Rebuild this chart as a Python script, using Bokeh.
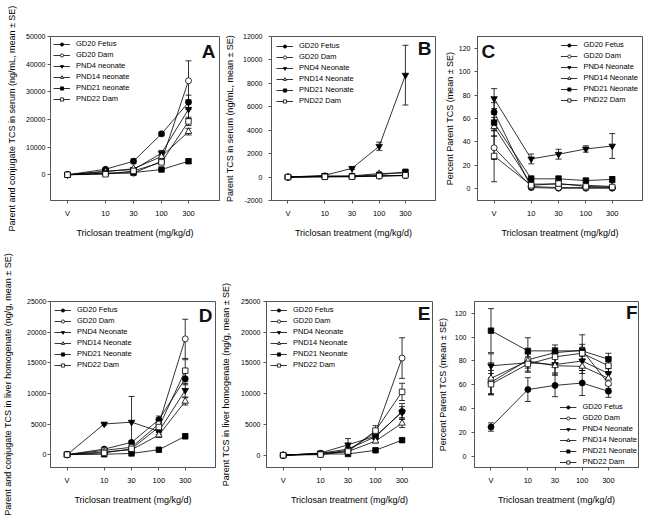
from bokeh.plotting import figure
from bokeh.models import (ColumnDataSource, Whisker, TeeHead, Legend, LegendItem,
                          FixedTicker, Range1d, Label, NumeralTickFormatter)
from bokeh.layouts import column, row
from bokeh.embed import file_html
from bokeh.resources import INLINE

# ---------------- data ----------------
doses = ["V", "10", "30", "100", "300"]
names = ["GD20 Fetus", "GD20 Dam", "PND4 Neonate", "PND14 Neonate", "PND21 Neonate", "PND22 Dam"]
names_a = ["GD20 Fetus", "GD20 Dam", "PND4 neonate", "PND14 neonate", "PND21 neonate", "PND22 Dam"]

# A: parent + conjugate TCS in serum (ng/mL)
a_fetus = [0, 2000, 4900, 14800, 26200]
a_dam = [0, 600, 600, 4900, 34000]
a_pnd4 = [0, 1300, 1900, 7800, 23700]
a_pnd14 = [0, 1100, 2200, 6600, 15600]
a_pnd21 = [0, 500, 800, 1900, 4900]
a_pnd22 = [0, 200, 1400, 4500, 19300]
a_se_fetus = [0, 300, 900, 700, 2600]
a_se_dam = [0, 100, 150, 900, 7200]
a_se_pnd4 = [0, 200, 300, 1000, 3400]
a_se_pnd14 = [0, 150, 300, 800, 1200]
a_se_pnd21 = [0, 80, 120, 300, 700]
a_se_pnd22 = [0, 50, 200, 600, 1500]

# B: parent TCS in serum (ng/mL)
b_fetus = [0, 50, 60, 100, 150]
b_dam = [0, 30, 40, 80, 120]
b_pnd4 = [0, 150, 750, 2630, 8700]
b_pnd14 = [0, 80, 100, 300, 350]
b_pnd21 = [0, 70, 60, 200, 450]
b_pnd22 = [0, 20, 30, 100, 150]
b_se_fetus = [0, 10, 10, 20, 30]
b_se_dam = [0, 10, 10, 20, 30]
b_se_pnd4 = [0, 30, 100, 350, 2550]
b_se_pnd14 = [0, 20, 20, 60, 80]
b_se_pnd21 = [0, 20, 20, 50, 100]
b_se_pnd22 = [0, 10, 10, 20, 30]

# C: percent parent TCS in serum
c_fetus = [65.5, 1, 0.5, 0.5, 0.5]
c_dam = [35, 2, 1, 1, 1]
c_pnd4 = [77, 25.5, 29.5, 34, 36.5]
c_pnd14 = [53, 4, 4, 3, 2]
c_pnd21 = [56.5, 8.5, 8.5, 7, 8]
c_pnd22 = [28, 3, 4.5, 2, 1.5]
c_se_fetus = [8, 0.3, 0.2, 0.2, 0.2]
c_se_dam = [10, 0.5, 0.3, 0.3, 0.3]
c_se_pnd4 = [8.5, 4.2, 4.2, 2.7, 10.6]
c_se_pnd14 = [8, 1, 1, 1, 0.5]
c_se_pnd21 = [7, 2.5, 2.5, 1.5, 2.5]
c_se_pnd22 = [22, 1, 1.5, 0.5, 0.5]

# D: parent + conjugate TCS in liver homogenate (ng/g)
d_fetus = [0, 900, 2000, 5700, 12400]
d_dam = [0, 700, 1200, 5000, 18900]
d_pnd4 = [0, 5000, 5300, 3800, 10500]
d_pnd14 = [0, 450, 800, 3200, 8700]
d_pnd21 = [0, 60, 200, 800, 3000]
d_pnd22 = [0, 280, 950, 4500, 13700]
d_se_fetus = [0, 100, 300, 600, 1000]
d_se_dam = [0, 100, 150, 800, 3200]
d_se_pnd4 = [0, 200, 4200, 500, 1100]
d_se_pnd14 = [0, 80, 150, 400, 600]
d_se_pnd21 = [0, 20, 40, 100, 400]
d_se_pnd22 = [0, 50, 100, 700, 1800]

# E: parent TCS in liver homogenate (ng/g)
e_fetus = [0, 300, 1000, 3000, 7100]
e_dam = [0, 200, 800, 3700, 15800]
e_pnd4 = [0, 350, 1700, 3100, 7000]
e_pnd14 = [0, 250, 600, 2300, 5200]
e_pnd21 = [0, 200, 200, 800, 2450]
e_pnd22 = [0, 100, 600, 4000, 10300]
e_se_fetus = [0, 50, 300, 400, 1300]
e_se_dam = [0, 50, 200, 600, 3300]
e_se_pnd4 = [0, 60, 1000, 400, 900]
e_se_pnd14 = [0, 50, 150, 300, 700]
e_se_pnd21 = [0, 30, 50, 100, 300]
e_se_pnd22 = [0, 30, 150, 800, 1400]

# F: percent parent TCS in liver homogenate
f_fetus = [24.5, 56, 59.5, 61.5, 54.5]
f_dam = [62, 81, 87, 89, 61]
f_pnd4 = [76, 78.5, 77, 80, 69.5]
f_pnd14 = [65.5, 80, 76, 75.5, 65.5]
f_pnd21 = [105.5, 88.5, 88.5, 88.5, 81.5]
f_pnd22 = [60.5, 77.5, 83.5, 86.5, 76]
f_se_fetus = [3.5, 10, 9.5, 10.5, 5]
f_se_dam = [10, 5, 4, 5, 4]
f_se_pnd4 = [10, 8, 7, 8, 4]
f_se_pnd14 = [13, 6, 8, 6, 5]
f_se_pnd21 = [18.5, 11, 5, 13.5, 5]
f_se_pnd22 = [9, 6, 5, 5, 7]

# ---------------- styling / layout ----------------
POS = [0, 38, 66, 94, 121]          # horizontal placement of the dose categories
XR = (-17, 152)
FONT = "Liberation Sans"
FRAME = "#555555"
MARKERS = ["circle", "circle", "inverted_triangle", "triangle", "square", "square"]
FILLS = ["black", "white", "black", "white", "black", "white"]
MSIZE = [6, 6, 6.5, 6.5, 5.5, 5.5]


def panel(letter, means, ses, labels, ylabel, yr, yticks, width, height,
          bl, br, bt, bb, tick_standoff, label_standoff,
          leg_loc, leg_margin, leg_pad, letter_side, letter_dx, letter_dy):
    p = figure(width=width, height=height, min_border_left=bl, min_border_right=br,
               min_border_top=bt, min_border_bottom=bb,
               x_range=Range1d(*XR), y_range=Range1d(*yr),
               output_backend="svg", toolbar_location=None, tools="")
    p.grid.visible = False
    p.outline_line_color = FRAME
    p.outline_line_width = 1
    p.background_fill_color = "white"
    p.border_fill_color = "white"

    xa = p.xaxis[0]
    ya = p.yaxis[0]
    xa.ticker = FixedTicker(ticks=POS)
    xa.major_label_overrides = {k: v for k, v in zip(POS, doses)}
    ya.ticker = FixedTicker(ticks=yticks)
    ya.formatter = NumeralTickFormatter(format="0")
    xa.axis_label = "Triclosan treatment (mg/kg/d)"
    ya.axis_label = ylabel
    for ax in (xa, ya):
        ax.axis_line_color = FRAME
        ax.major_tick_line_color = FRAME
        ax.minor_tick_line_color = None
        ax.major_tick_in = 0
        ax.major_tick_out = 3
        ax.major_label_text_font = FONT
        ax.major_label_text_color = "black"
        ax.axis_label_text_font = FONT
        ax.axis_label_text_font_style = "normal"
        ax.axis_label_text_font_size = "9px"
        ax.axis_label_text_color = "black"
    xa.major_label_text_font_size = "7.5px"
    ya.major_label_text_font_size = "7px"
    xa.major_label_standoff = 5
    xa.axis_label_standoff = 7
    ya.major_label_standoff = tick_standoff
    ya.axis_label_standoff = label_standoff

    items = []
    for i, (m, s, lab) in enumerate(zip(means, ses, labels)):
        src = ColumnDataSource(dict(x=POS, y=m,
                                    upper=[a + b for a, b in zip(m, s)],
                                    lower=[a - b for a, b in zip(m, s)]))
        ln = p.line("x", "y", source=src, line_color="black", line_width=0.8)
        w = Whisker(source=src, base="x", upper="upper", lower="lower",
                    line_color="black", line_width=0.8, level="underlay",
                    upper_head=TeeHead(size=6, line_color="black", line_width=0.8),
                    lower_head=TeeHead(size=6, line_color="black", line_width=0.8))
        p.add_layout(w)
        sc = p.scatter("x", "y", source=src, marker=MARKERS[i], size=MSIZE[i],
                       fill_color=FILLS[i], line_color="black", line_width=0.8)
        items.append(LegendItem(label=lab, renderers=[ln, sc]))

    leg = Legend(items=items, location=leg_loc, background_fill_alpha=0,
                 border_line_alpha=0, label_text_font=FONT, label_text_font_size="7.5px",
                 label_text_color="black",
                 glyph_width=17, glyph_height=8, label_height=8, spacing=2,
                 label_standoff=6, padding=leg_pad, margin=leg_margin)
    p.add_layout(leg)

    if letter_side == "right":
        lx, align = XR[1], "right"
    else:
        lx, align = XR[0], "left"
    p.add_layout(Label(x=lx, y=yr[1], text=letter, text_font=FONT,
                       text_font_size="19px", text_font_style="bold",
                       text_color="#111111", text_align=align, text_baseline="top",
                       x_offset=letter_dx, y_offset=letter_dy))
    return p


pA = panel("A", [a_fetus, a_dam, a_pnd4, a_pnd14, a_pnd21, a_pnd22],
           [a_se_fetus, a_se_dam, a_se_pnd4, a_se_pnd14, a_se_pnd21, a_se_pnd22],
           names_a, "Parent and conjugate TCS in serum (ng/mL, mean \u00b1 SE)",
           (-9300, 50000), [0, 10000, 20000, 30000, 40000, 50000],
           222, 240, 50, 3, 36, 37, 2, 6, "top_left", 2, 1, "right", -4, -4)
pB = panel("B", [b_fetus, b_dam, b_pnd4, b_pnd14, b_pnd21, b_pnd22],
           [b_se_fetus, b_se_dam, b_se_pnd4, b_se_pnd14, b_se_pnd21, b_se_pnd22],
           names, "Parent TCS in serum (ng/mL, mean \u00b1 SE)",
           (-2000, 12000), [-2000, 0, 2000, 4000, 6000, 8000, 10000, 12000],
           215, 240, 49, 2, 36, 37, 6, 5, "top_left", 3, 2, "right", -4, -1)
pC = panel("C", [c_fetus, c_dam, c_pnd4, c_pnd14, c_pnd21, c_pnd22],
           [c_se_fetus, c_se_dam, c_se_pnd4, c_se_pnd14, c_se_pnd21, c_se_pnd22],
           names, "Percent Parent TCS (mean \u00b1 SE)",
           (-10, 130), [0, 20, 40, 60, 80, 100, 120],
           208, 240, 40, 3, 36, 37, 4, 1, "top_right", 2, 2, "left", 4, -4)
pD = panel("D", [d_fetus, d_dam, d_pnd4, d_pnd14, d_pnd21, d_pnd22],
           [d_se_fetus, d_se_dam, d_se_pnd4, d_se_pnd14, d_se_pnd21, d_se_pnd22],
           names, "Parent and conjugate TCS in liver homogenate (ng/g, mean \u00b1 SE)",
           (-2100, 25000), [0, 5000, 10000, 15000, 20000, 25000],
           218, 283, 49, 3, 61, 56, 1, 11, "top_left", 2, 2, "right", -3, -3)
pE = panel("E", [e_fetus, e_dam, e_pnd4, e_pnd14, e_pnd21, e_pnd22],
           [e_se_fetus, e_se_dam, e_se_pnd4, e_se_pnd14, e_se_pnd21, e_se_pnd22],
           names, "Parent TCS in liver homogenate (ng/g, mean \u00b1 SE)",
           (-2000, 25000), [0, 5000, 10000, 15000, 20000, 25000],
           216, 283, 48, 2, 61, 56, 3, 7, "top_left", 2, 2, "right", -2, -1)
pF = panel("F", [f_fetus, f_dam, f_pnd4, f_pnd14, f_pnd21, f_pnd22],
           [f_se_fetus, f_se_dam, f_se_pnd4, f_se_pnd14, f_se_pnd21, f_se_pnd22],
           names, "Percent Parent TCS (mean \u00b1 SE)",
           (-9.5, 130), [0, 20, 40, 60, 80, 100, 120],
           208, 283, 38, 4, 61, 56, 5, 4, "bottom_right", 0, 1, "right", -1, 0)

layout = column(row(pA, pB, pC), row(pD, pE, pF))
open("out.html", "w").write(file_html(layout, INLINE))
